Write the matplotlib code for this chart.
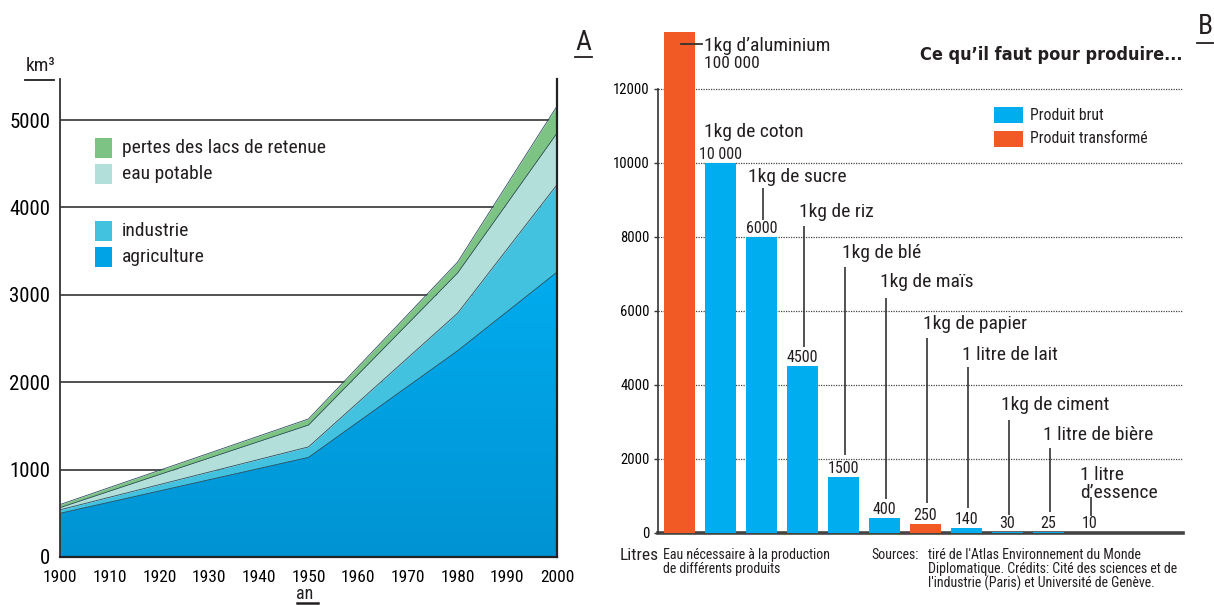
import numpy as np
import matplotlib
matplotlib.use('Agg')
import matplotlib.pyplot as plt
from matplotlib.patches import Rectangle
from matplotlib.lines import Line2D
from matplotlib.colors import LinearSegmentedColormap

plt.rcParams['font.family'] = ['Roboto Condensed', 'DejaVu Sans Condensed', 'Liberation Sans Narrow',
                               'Roboto', 'DejaVu Sans']
plt.rcParams['font.stretch'] = 'condensed'
plt.rcParams['text.color'] = '#231f20'

# A : consommation d'eau par secteur (km3), couches empilees
years = [1900, 1950, 1980, 2000]
agriculture = [500, 1140, 2360, 3260]
industrie = [40, 120, 430, 1000]
eau_potable = [25, 250, 460, 590]
pertes = [35, 70, 125, 310]
secteurs = ['pertes des lacs de retenue', 'eau potable', 'industrie', 'agriculture']

# B : litres d'eau pour produire...
produits = ['1kg d\u2019aluminium', '1kg de coton', '1kg de sucre', '1kg de riz',
            '1kg de bl\u00e9', '1kg de ma\u00efs', '1kg de papier', '1 litre de lait',
            '1kg de ciment', '1 litre de bi\u00e8re', '1 litre\nd\u2019essence']
litres = [100000, 10000, 8000, 4500, 1500, 400, 250, 140, 30, 25, 10]   # hauteurs
etiquettes = ['100 000', '10 000', '6000', '4500', '1500', '400', '250', '140', '30', '25', '10']
types = ['transforme', 'brut', 'brut', 'brut', 'brut', 'brut', 'transforme',
         'brut', 'brut', 'brut', 'brut']

W, H = 1214, 605
fig = plt.figure(figsize=(W / 100, H / 100), dpi=100)


def px(x, y):
    return x / W, 1 - y / H


def underline(x0, x1, y, lw=1.3):
    fig.add_artist(Line2D([x0 / W, x1 / W], [1 - y / H, 1 - y / H],
                          transform=fig.transFigure, color='#231f20', lw=lw))


c_ind = '#42c2de'
c_pot = '#b3dfda'
c_per = '#7dc383'
edge = '#2d4f60'

# ---------------- panneau A ----------------
axA = fig.add_axes([60 / W, 48 / H, 497 / W, 478 / H])
ymaxA = 5470
for v in range(1000, 6000, 1000):
    axA.axhline(v, color='#333333', lw=1.2, zorder=1)

y1 = np.array(agriculture)
y2 = y1 + np.array(industrie)
y3 = y2 + np.array(eau_potable)
y4 = y3 + np.array(pertes)

axA.fill_between(years, y3, y4, color=c_per, lw=0, zorder=2)
axA.fill_between(years, y2, y3, color=c_pot, lw=0, zorder=2)
axA.fill_between(years, y1, y2, color=c_ind, lw=0, zorder=2)
poly = axA.fill_between(years, 0, y1, color='none', lw=0, zorder=2)
cmap = LinearSegmentedColormap.from_list('agri', ['#0093d3', '#00acee'])
grad = np.linspace(0, 1, 256).reshape(-1, 1)
im = axA.imshow(grad, extent=[1900, 2000, 0, 3300], origin='lower', cmap=cmap,
                aspect='auto', zorder=2)
im.set_clip_path(poly.get_paths()[0], transform=axA.transData)
for top in (y1, y2, y3, y4):
    axA.plot(years, top, color=edge, lw=0.6, zorder=3)

axA.set_xlim(1900, 2000)
axA.set_ylim(0, ymaxA)
axA.set_xticks(range(1900, 2001, 10))
axA.set_yticks(range(0, 5001, 1000))
axA.tick_params(length=0)
axA.tick_params(axis='x', pad=9, labelsize=12.5)
axA.tick_params(axis='y', pad=7, labelsize=15)
axA.spines['top'].set_visible(False)
axA.spines['left'].set_color('#333333')
axA.spines['left'].set_linewidth(1.3)
axA.spines['right'].set_color('#222222')
axA.spines['right'].set_linewidth(1.6)
axA.spines['bottom'].set_color('#222222')
axA.spines['bottom'].set_linewidth(1.6)
for s in axA.spines.values():
    s.set_zorder(4)

# legende A
leg_colors = [c_per, c_pot, c_ind, '#00a3e6']
leg_y = [148, 174, 231, 257]
for lab, col, yy in zip(secteurs, leg_colors, leg_y):
    fig.add_artist(Rectangle(px(95, yy + 10), 17 / W, 20 / H, transform=fig.transFigure,
                             facecolor=col, edgecolor='none'))
    fig.text(*px(122, yy), lab, fontsize=14, va='center', ha='left')

fig.text(*px(41, 66), 'km\u00b3', fontsize=14, ha='center', va='center')
underline(25, 54, 80)
fig.text(*px(583, 43), 'A', fontsize=20, ha='center', va='center')
underline(575, 592, 57)
fig.text(*px(305, 594), 'an', fontsize=13, ha='center', va='center')
underline(297, 318, 603, lw=1.8)

# ---------------- panneau B ----------------
axB = fig.add_axes([658 / W, 72 / H, 525 / W, 501 / H])
ymaxB = 13540
x = np.arange(len(litres))
col_map = {'brut': '#00aeef', 'transforme': '#f15a24'}
axB.bar(x, litres, width=0.77, color=[col_map[t] for t in types], zorder=2)
axB.set_xlim(-0.52, 12.28)
axB.set_ylim(0, ymaxB)
axB.set_xticks([])
axB.set_yticks(range(0, 12001, 2000))
axB.set_yticklabels([str(v) for v in range(0, 12001, 2000)])
axB.tick_params(axis='y', length=3, width=1, color='#333333', labelsize=10.5, pad=3)
axB.yaxis.grid(True, color='#444444', lw=0.9, linestyle=(0, (1, 1)), zorder=0)
axB.set_axisbelow(True)
for s in ('top', 'right'):
    axB.spines[s].set_visible(False)
axB.spines['left'].set_bounds(0, 12000)
axB.spines['left'].set_color('#333333')
axB.spines['left'].set_linewidth(1.2)
axB.spines['bottom'].set_color('#444444')
axB.spines['bottom'].set_linewidth(2.6)
axB.spines['bottom'].set_zorder(1)

# valeurs au-dessus des barres
for i in range(1, len(litres)):
    axB.annotate(etiquettes[i], (x[i], litres[i]), xytext=(0, 3), textcoords='offset points',
                 ha='center', va='baseline', fontsize=11.5)

# noms des produits et traits de rappel
name_y = [13163, 10840, 9623, 8677, 7568, 6785, 5649, 4811, 3460, 2649, 1324]
name_dx = [0.6, -0.4, -0.33, -0.09, -0.04, -0.11, -0.06, -0.11, -0.16, -0.14, -0.23]
lead_top = [None, None, 9325, 8298, 7190, 6352, 5271, 4487, 3054, 2298, 973]
lead_bot = [None, None, 8460, 5028, 2108, 919, 811, 676, 487, 568, 460]
for i, name in enumerate(produits):
    axB.text(x[i] + name_dx[i], name_y[i], name, fontsize=14, ha='left', va='center',
             linespacing=1.0, zorder=5)
    if lead_top[i] is not None:
        axB.plot([x[i] + 0.03, x[i] + 0.03], [lead_bot[i], lead_top[i]], color='#333333',
                 lw=1.2, zorder=3, solid_capstyle='butt')
axB.text(x[0] + 0.6, 12677, etiquettes[0], fontsize=12.5, ha='left', va='center')
axB.plot([x[0] + 0.04, x[0] + 0.55], [13218, 13218], color='#333333', lw=1.3, zorder=3)

# titre et legende B
fig.text(*px(1182, 55), 'Ce qu\u2019il faut pour produire...', fontsize=13, fontweight='bold',
         family='DejaVu Sans', ha='right', va='center')
fig.text(*px(1205, 27), 'B', fontsize=20, ha='center', va='center')
underline(1197, 1213, 43)
for lab, col, yy in [('Produit brut', '#00aeef', 115), ('Produit transform\u00e9', '#f15a24', 139)]:
    fig.add_artist(Rectangle(px(994, yy + 8), 29 / W, 16 / H, transform=fig.transFigure,
                             facecolor=col, edgecolor='none'))
    fig.text(*px(1030, yy), lab, fontsize=11.3, ha='left', va='center')

fig.text(*px(620, 555), 'Litres', fontsize=12.5, ha='left', va='center')
fig.text(*px(663, 548), 'Eau n\u00e9cessaire \u00e0 la production\nde diff\u00e9rents produits',
         fontsize=10, ha='left', va='top', linespacing=1.0)
fig.text(*px(871, 548), 'Sources:', fontsize=10, ha='left', va='top')
fig.text(*px(928, 548), 'tir\u00e9 de l\'Atlas Environnement du Monde\n'
         'Diplomatique. Cr\u00e9dits: Cit\u00e9 des sciences et de\n'
         'l\'industrie (Paris) et Universit\u00e9 de Gen\u00e8ve.',
         fontsize=10, ha='left', va='top', linespacing=1.0)

fig.savefig('out.png', dpi=100)
